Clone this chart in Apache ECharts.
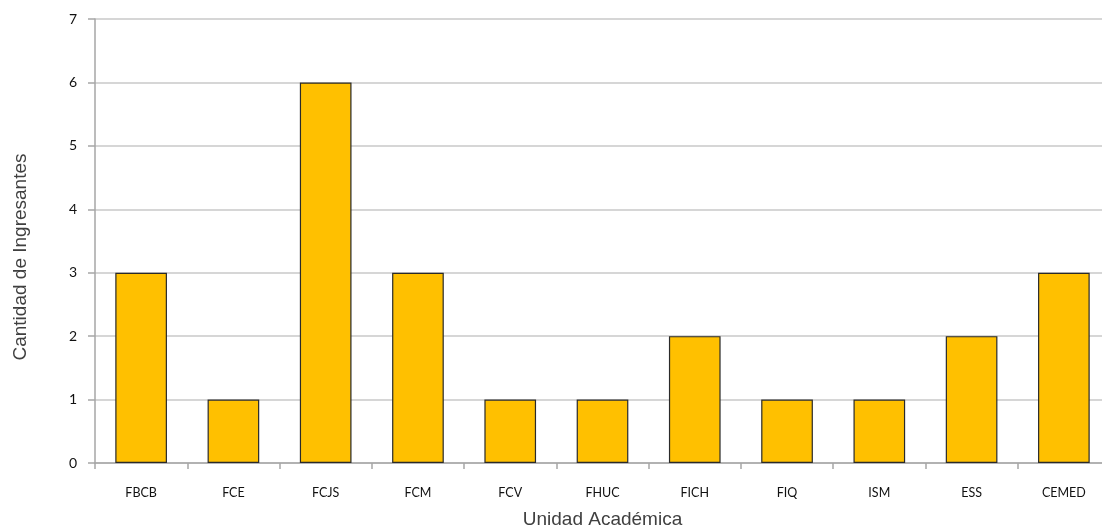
<!DOCTYPE html>
<html>
<head>
<meta charset="utf-8">
<script src="https://cdn.jsdelivr.net/npm/echarts@6/dist/echarts.min.js"></script>
<style>html,body{margin:0;padding:0;background:#fff;overflow:hidden}#c{width:1102px;height:531px}</style>
</head>
<body>
<div id="c"></div>
<script>
const categories = ['FBCB','FCE','FCJS','FCM','FCV','FHUC','FICH','FIQ','ISM','ESS','CEMED'];
const values = [3,1,6,3,1,1,2,1,1,2,3];
const yTicks = [0,1,2,3,4,5,6,7];

const chart = echarts.init(document.getElementById('c'), null, {renderer:'canvas'});
chart.setOption({
  animation:false,
  backgroundColor:'#ffffff',
  grid:{left:95, right:-8, top:19, bottom:68, containLabel:false, outerBoundsMode:'none'},
  xAxis:{
    type:'category', data:categories,
    name:'Unidad Académica', nameLocation:'middle', nameGap:47,
    nameTextStyle:{fontFamily:'Liberation Sans', fontSize:19, color:'#404040'},
    axisLine:{lineStyle:{color:'#a6a6a6', width:1.5}},
    axisTick:{show:true, length:6, lineStyle:{color:'#a6a6a6', width:1.5}},
    axisLabel:{margin:23, fontFamily:'Lato', fontSize:12.5, color:'#111'},
    splitLine:{show:false}
  },
  yAxis:{
    type:'value', min:0, max:7, interval:1,
    name:'Cantidad de Ingresantes', nameLocation:'middle', nameGap:65, nameRotate:90,
    nameTextStyle:{fontFamily:'Liberation Sans', fontSize:19, color:'#404040', padding:[0,32,0,0]},
    axisLine:{show:true, lineStyle:{color:'#a6a6a6', width:1.5}},
    axisTick:{show:true, length:7, lineStyle:{color:'#a6a6a6', width:1.5}},
    axisLabel:{margin:18, fontFamily:'Lato', fontSize:14, color:'#111',
      formatter:function(v){return yTicks.indexOf(v)>=0 ? String(v) : '';}},
    splitLine:{show:true, lineStyle:{color:'#c8c8c8', width:1.5}}
  },
  series:[{
    type:'bar', data:values, barWidth:'56%',
    itemStyle:{color:'#FFC000', borderColor:'#2a2a2a', borderWidth:1.2}
  }]
});
</script>
</body>
</html>
